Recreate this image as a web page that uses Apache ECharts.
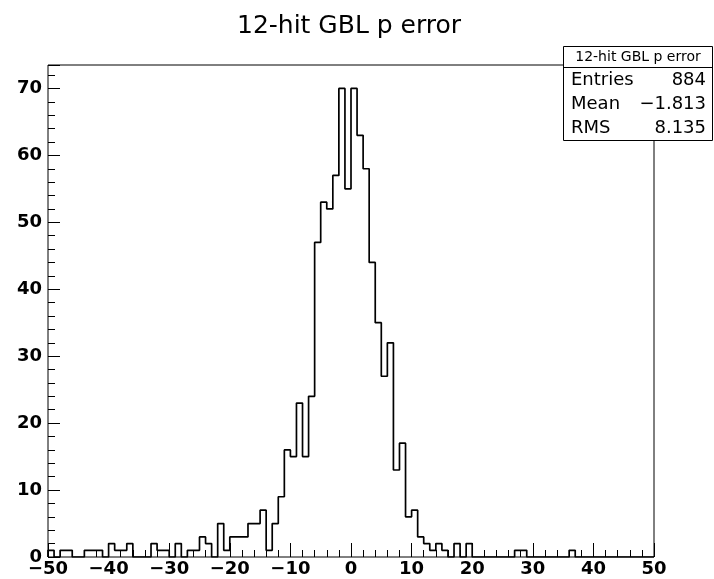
<!DOCTYPE html>
<html>
<head>
<meta charset="utf-8">
<script src="https://cdn.jsdelivr.net/npm/echarts@6/dist/echarts.min.js"></script>
<style>
  html, body { margin: 0; padding: 0; background: #fff; }
  #cht { width: 714px; height: 579px; }
</style>
</head>
<body>
<div id="cht"></div>
<script>
// histogram: 100 bins of width 1 from -50 to 50
const binLow = -50;
const binWidth = 1;
const counts = [
  1, 0, 1, 1, 0, 0, 1, 1, 1, 0,      // -50 .. -41
  2, 1, 1, 2, 0, 0, 0, 2, 1, 1,      // -40 .. -31
  0, 2, 0, 1, 1, 3, 2, 0, 5, 1,      // -30 .. -21
  3, 3, 3, 5, 5, 7, 1, 5, 9, 16,     // -20 .. -11
  15, 23, 15, 24, 47, 53, 52, 57, 70, 55, // -10 .. -1
  70, 63, 58, 44, 35, 27, 32, 13, 17, 6,  // 0 .. 9
  7, 3, 2, 1, 2, 1, 0, 2, 0, 2,      // 10 .. 19
  0, 0, 0, 0, 0, 0, 0, 1, 1, 0,      // 20 .. 29
  0, 0, 0, 0, 0, 0, 1, 0, 0, 0,      // 30 .. 39
  0, 0, 0, 0, 0, 0, 0, 0, 0, 0       // 40 .. 49
];
const yMax = 73.5;

const titleText = '12-hit GBL p error';
const statNames = ['Entries', 'Mean', 'RMS'];
const statValues = ['884', '\u22121.813', '8.135'];

const cht = echarts.init(document.getElementById('cht'));

const histData = [[binLow, 0]];
counts.forEach((c, i) => histData.push([binLow + i * binWidth, c]));
histData.push([binLow + counts.length * binWidth, 0]);

const fmt = (v) => (v < 0 ? '\u2212' + Math.abs(v) : String(v));
const FONT = 'DejaVu Sans';

const statRows = [];
statNames.forEach((n, i) => {
  const y = 80 + i * 24;
  statRows.push({
    type: 'text', x: 571, y: y, z: 11,
    style: { text: n, font: '18px "DejaVu Sans"', fill: '#000', align: 'left', verticalAlign: 'middle' }
  });
  statRows.push({
    type: 'text', x: 706, y: y, z: 11,
    style: { text: statValues[i], font: '18px "DejaVu Sans"', fill: '#000', align: 'right', verticalAlign: 'middle' }
  });
});

const minorAxis = {
  axisLine: { show: false, onZero: false },
  splitLine: { show: false },
  axisTick: { inside: true, length: 7, lineStyle: { color: '#000', width: 1 } },
  axisLabel: { show: false }
};

const option = {
  animation: false,
  title: {
    text: titleText,
    left: 232,
    top: 9,
    textStyle: { fontFamily: FONT, fontSize: 25, fontWeight: 'normal', color: '#000' }
  },
  grid: {
    left: 48, right: 60, top: 65, bottom: 22,
    show: true, borderColor: '#000', borderWidth: 1, backgroundColor: 'transparent'
  },
  xAxis: [
    {
      type: 'value', min: -50, max: 50, interval: 10,
      axisLine: { show: false, onZero: false },
      splitLine: { show: false },
      axisTick: { inside: true, length: 14, lineStyle: { color: '#000', width: 1 } },
      axisLabel: {
        formatter: fmt, margin: 3, color: '#000',
        fontFamily: FONT, fontWeight: 'bold', fontSize: 18
      }
    },
    Object.assign({ type: 'value', min: -50, max: 50, interval: 2, position: 'bottom' }, minorAxis)
  ],
  yAxis: [
    {
      type: 'value', min: 0, max: yMax, interval: 10,
      axisLine: { show: false, onZero: false },
      splitLine: { show: false },
      axisTick: { inside: true, length: 12, lineStyle: { color: '#000', width: 1 } },
      axisLabel: {
        formatter: (v) => (v % 10 === 0 ? String(v) : ''),
        margin: 6, color: '#000',
        fontFamily: FONT, fontWeight: 'bold', fontSize: 18
      }
    },
    Object.assign({ type: 'value', min: 0, max: yMax, interval: 2, position: 'left' }, minorAxis)
  ],
  series: [
    {
      type: 'line',
      step: 'end',
      data: histData,
      symbol: 'none',
      lineStyle: { color: '#000', width: 1.7 }
    }
  ],
  graphic: [
    {
      type: 'rect',
      shape: { x: 563.5, y: 46.5, width: 149, height: 94 },
      style: { fill: '#fff', stroke: '#000', lineWidth: 1 },
      z: 10
    },
    {
      type: 'line',
      shape: { x1: 563.5, y1: 67.5, x2: 712.5, y2: 67.5 },
      style: { stroke: '#000', lineWidth: 1 },
      z: 11
    },
    {
      type: 'text', x: 638, y: 57, z: 11,
      style: { text: titleText, font: '14px "DejaVu Sans"', fill: '#000', align: 'center', verticalAlign: 'middle' }
    }
  ].concat(statRows)
};

cht.setOption(option);
</script>
</body>
</html>
